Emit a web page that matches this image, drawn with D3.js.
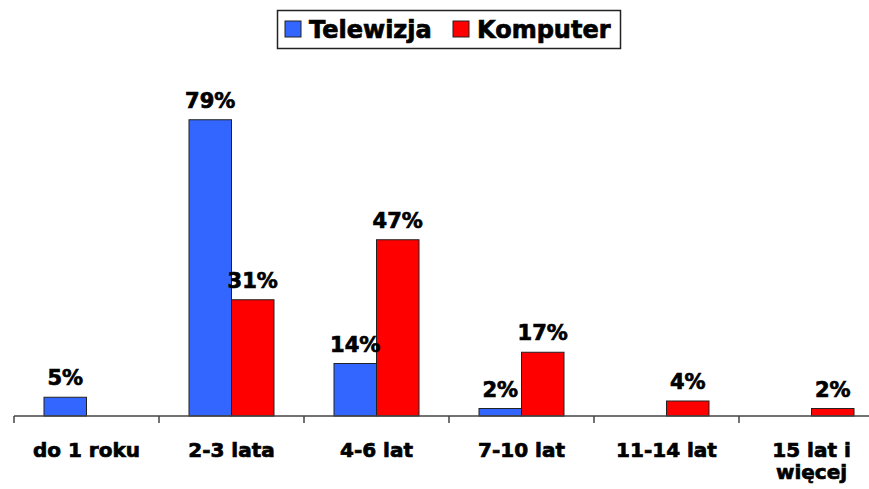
<!DOCTYPE html>
<html>
<head>
<meta charset="utf-8">
<script src="https://cdn.jsdelivr.net/npm/d3@7"></script>
<style>
  body { margin: 0; background: #fff; }
  svg text { font-family: "DejaVu Sans", Verdana, sans-serif; font-weight: bold; stroke: #000; stroke-width: 0.7px; }
</style>
</head>
<body>
<div id="chart"></div>
<script>
const categories = ["do 1 roku", "2-3 lata", "4-6 lat", "7-10 lat", "11-14 lat", "15 lat i\nwięcej"];
const series = ["Telewizja", "Komputer"];
const telewizja = [5, 79, 14, 2, null, null];
const komputer = [null, 31, 47, 17, 4, 2];

const COLORS = { Telewizja: "#3366FF", Komputer: "#FF0000" };

const W = 869, H = 489;
const baseY = 416;
const x0Left = 14, bandW = 145;

const svg = d3.select("#chart")
  .append("svg")
  .attr("width", W)
  .attr("height", H);

const x0 = d3.scaleBand()
  .domain(categories)
  .range([x0Left, x0Left + bandW * categories.length]);

const x1 = d3.scaleBand()
  .domain(series)
  .range([30, 115]);

const y = d3.scaleLinear().domain([0, 80]).range([baseY, baseY - 300]);

const rows = categories.map((c, i) => ({
  cat: c,
  vals: [
    { s: "Telewizja", v: telewizja[i] },
    { s: "Komputer", v: komputer[i] }
  ].filter(d => d.v !== null)
}));

// bars
const groups = svg.selectAll(".grp")
  .data(rows)
  .join("g")
  .attr("transform", d => `translate(${x0(d.cat)},0)`);

groups.selectAll("rect")
  .data(d => d.vals)
  .join("rect")
  .attr("x", d => x1(d.s))
  .attr("y", d => y(d.v))
  .attr("width", x1.bandwidth())
  .attr("height", d => y(0) - y(d.v))
  .attr("fill", d => COLORS[d.s])
  .attr("stroke", "#222")
  .attr("stroke-width", 1);

groups.selectAll("text")
  .data(d => d.vals)
  .join("text")
  .attr("x", d => x1(d.s) + x1.bandwidth() / 2)
  .attr("y", d => y(d.v) - 12)
  .attr("text-anchor", "middle")
  .attr("font-size", 21)
  .attr("fill", "#000")
  .text(d => d.v + "%");

// x axis
const axis = svg.append("g").attr("transform", `translate(0,${baseY})`);
axis.append("line")
  .attr("x1", x0Left).attr("x2", x0Left + bandW * categories.length)
  .attr("stroke", "#444").attr("stroke-width", 1.5);
axis.selectAll(".tick")
  .data(categories)
  .join("line")
  .attr("x1", d => x0(d)).attr("x2", d => x0(d))
  .attr("y1", 0).attr("y2", 7)
  .attr("stroke", "#444").attr("stroke-width", 1.5);

axis.selectAll(".lbl")
  .data(categories)
  .join("text")
  .attr("text-anchor", "middle")
  .attr("font-size", 20)
  .attr("fill", "#000")
  .each(function(d) {
    const t = d3.select(this);
    d.split("\n").forEach((line, i) => {
      t.append("tspan")
        .attr("x", x0(d) + x0.bandwidth() / 2)
        .attr("y", 41 + i * 22)
        .text(line);
    });
  });

// legend
const legend = svg.append("g");
legend.append("rect")
  .attr("x", 277.5).attr("y", 10.5)
  .attr("width", 343).attr("height", 38)
  .attr("fill", "#fff").attr("stroke", "#222").attr("stroke-width", 1.5);

const legendX = [285, 453];
series.forEach((s, i) => {
  legend.append("rect")
    .attr("x", legendX[i]).attr("y", 21)
    .attr("width", 16).attr("height", 16)
    .attr("fill", COLORS[s]).attr("stroke", "#222").attr("stroke-width", 1);
  legend.append("text")
    .attr("x", legendX[i] + 24).attr("y", 38)
    .attr("font-size", 24)
    .attr("fill", "#000")
    .text(s);
});
</script>
</body>
</html>
